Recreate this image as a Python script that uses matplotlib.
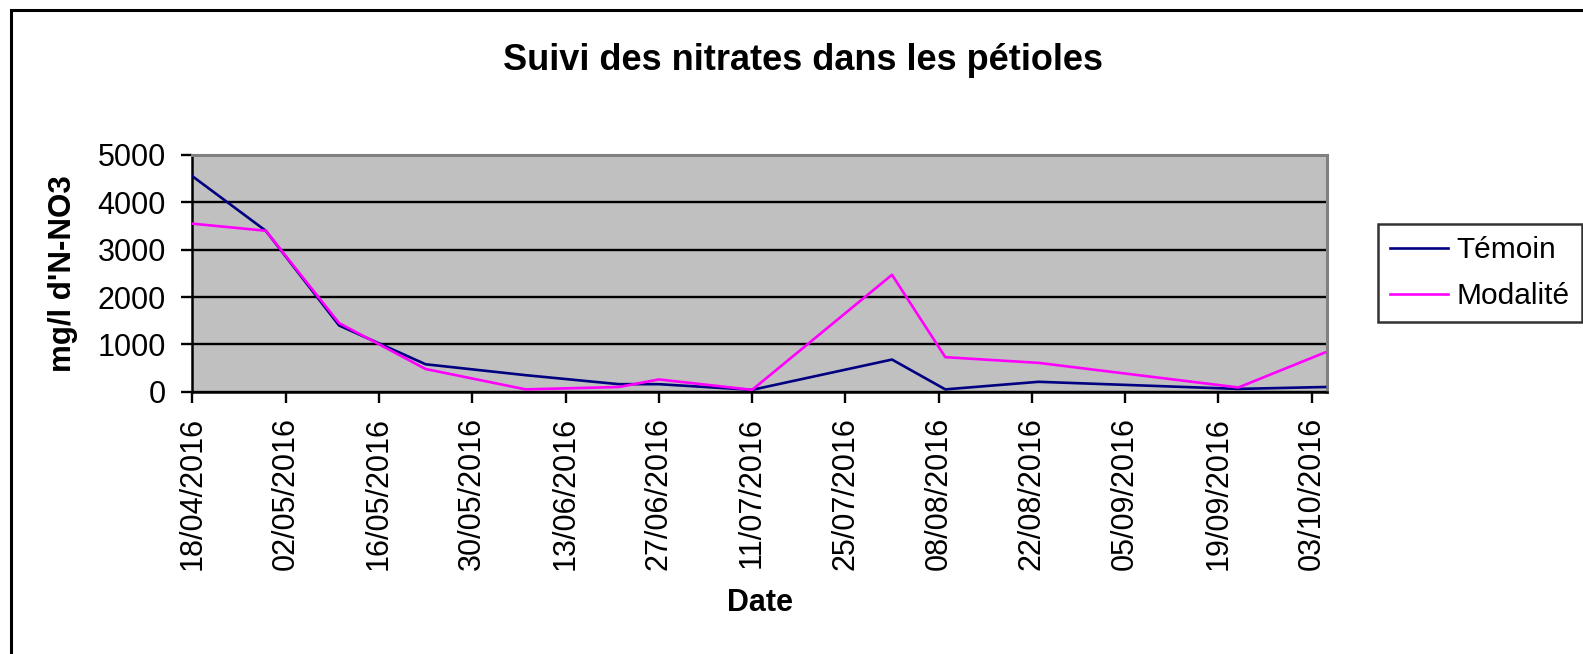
# -*- coding: utf-8 -*-

import pandas as pd
import matplotlib
matplotlib.use("Agg")
import matplotlib.pyplot as plt
import matplotlib.dates as mdates
from matplotlib.patches import Rectangle

plt.rcParams['font.family'] = ['Liberation Sans', 'DejaVu Sans']

# dates des prélèvements
dates = ['18/04/2016', '29/04/2016', '10/05/2016', '23/05/2016', '07/06/2016',
         '21/06/2016', '27/06/2016', '11/07/2016', '01/08/2016', '09/08/2016',
         '23/08/2016', '22/09/2016', '05/10/2016']
temoin = [4550, 3400, 1400, 580, 350, 160, 160, 40, 680, 50, 210, 60, 100]
modalite = [3550, 3400, 1450, 480, 50, 100, 260, 40, 2470, 730, 610, 90, 830]

yticks = [0, 1000, 2000, 3000, 4000, 5000]

x = pd.to_datetime(dates, format='%d/%m/%Y')
xticks = pd.date_range('2016-04-18', '2016-10-03', freq='14D')

fig = plt.figure(figsize=(15.83, 6.54), dpi=100)
ax = fig.add_axes([0.1216, 0.401, 0.7167, 0.362])
ax.set_facecolor('#C0C0C0')

ax.plot(x, temoin, color='#000080', lw=1.9, label='Témoin', zorder=3)
ax.plot(x, modalite, color='#FF00FF', lw=1.9, label='Modalité', zorder=3)

ax.set_ylim(0, 5000)
ax.set_yticks(yticks)
ax.set_xlim(x[0], x[0] + pd.Timedelta(days=170.3))
ax.set_xticks(xticks)
ax.xaxis.set_major_formatter(mdates.DateFormatter('%d/%m/%Y'))
ax.grid(axis='y', color='black', lw=1.7)
ax.set_axisbelow(True)

ax.tick_params(axis='both', length=8, width=1.7, direction='out', color='black')
ax.tick_params(axis='x', labelrotation=90, labelsize=22, pad=10)
ax.tick_params(axis='y', labelsize=22, pad=11)

for s in ['top', 'right']:
    ax.spines[s].set_color('#808080')
    ax.spines[s].set_linewidth(2.2)
for s in ['left', 'bottom']:
    ax.spines[s].set_color('black')
    ax.spines[s].set_linewidth(1.8)

ax.text(-0.114, 0.5, "mg/l d'N-NO3", transform=ax.transAxes, rotation=90,
        ha='center', va='center', fontsize=22.5, fontweight='bold')
ax.text(0.5, -0.893, 'Date', transform=ax.transAxes,
        ha='center', va='center', fontsize=22, fontweight='bold')

fig.text(803 / 1583, 1 - 70.5 / 654, 'Suivi des nitrates dans les pétioles',
         ha='center', va='baseline', fontsize=26, fontweight='bold')

leg = ax.legend(loc='upper left', bbox_to_anchor=(1.0447, 0.707), fontsize=21.5,
                frameon=True, fancybox=False, handlelength=1.95, handletextpad=0.3,
                borderpad=0.4, labelspacing=0.6, borderaxespad=0)
leg.get_frame().set_edgecolor('black')
leg.get_frame().set_linewidth(1.8)

# cadre du graphique
fig.patches.append(Rectangle((11 / 1583, -0.05), 1.2, 1 - 10 / 654 + 0.05,
                             transform=fig.transFigure, fill=False,
                             edgecolor='black', lw=2.2))

fig.savefig('out.png', dpi=100)
